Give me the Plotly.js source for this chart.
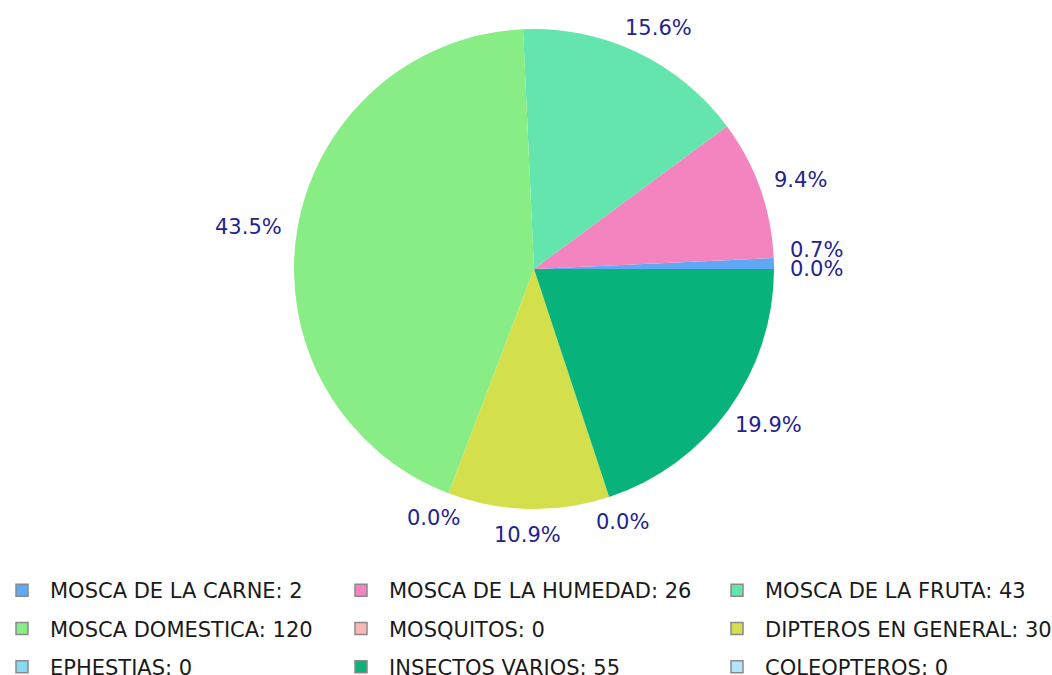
<!DOCTYPE html>
<html>
<head>
<meta charset="utf-8">
<script src="https://cdn.plot.ly/plotly-3.0.1.min.js"></script>
<style>
html,body{margin:0;padding:0;background:#fff;}
#chart{width:1052px;height:675px;}
</style>
</head>
<body>
<div id="chart"></div>
<script>
// ---- data ----
var categories = ["MOSCA DE LA CARNE", "MOSCA DE LA HUMEDAD", "MOSCA DE LA FRUTA",
  "MOSCA DOMESTICA", "MOSQUITOS", "DIPTEROS EN GENERAL",
  "EPHESTIAS", "INSECTOS VARIOS", "COLEOPTEROS"];
var counts = [2, 26, 43, 120, 0, 30, 0, 55, 0];
var colors = ["#5fa8f6", "#f384bf", "#64e5ae", "#88ed84", "#f8b7b3",
  "#d3df4b", "#84d9f3", "#08b27b", "#b5e4f9"];

// ---- layout constants ----
var W = 1052, H = 675;
var cx = 534, cy = 269, R = 240;
var FONT = "DejaVu Sans";
var labelColor = "#23238f";
var labelSize = 21, legendSize = 21;
var labelGap = 16;

var total = counts.reduce(function (a, b) { return a + b; }, 0);

var ctx = document.createElement("canvas").getContext("2d");
ctx.font = labelSize + 'px "' + FONT + '"';

// percentage labels placed outside the pie (computed from the data)
var labs = [];
var acc = 0;
for (var i = 0; i < counts.length; i++) {
  var frac = counts[i] / total;
  var mid = (acc + frac / 2) * 2 * Math.PI; // counterclockwise from 3 o'clock
  acc += frac;
  var c = Math.cos(mid), s = Math.sin(mid);
  var txt = (frac * 100).toFixed(1) + "%";
  var hw = ctx.measureText(txt).width / 2, hh = labelSize / 2;
  var px = cx + c * (R + labelGap) + c * hw;
  var py = cy - s * (R + labelGap) - s * hh;
  labs.push({ text: txt, x: px, y: py, right: c >= 0 });
}
// simple overlap resolution per side (bottom to top)
[true, false].forEach(function (side) {
  var group = labs.filter(function (l) { return l.right === side; })
    .sort(function (a, b) { return b.y - a.y; });
  for (var k = 1; k < group.length; k++) {
    var minSep = 19;
    if (group[k - 1].y - group[k].y < minSep && Math.abs(group[k - 1].x - group[k].x) < 80) {
      group[k].y = group[k - 1].y - minSep;
    }
  }
});

var annotations = labs.map(function (l) {
  return {
    xref: "paper", yref: "paper",
    x: l.x / W, y: 1 - l.y / H,
    xanchor: "center", yanchor: "middle",
    text: l.text, showarrow: false,
    font: { family: FONT, size: labelSize, color: labelColor }
  };
});

var traces = [{
  type: "pie",
  values: counts,
  labels: categories,
  sort: false,
  direction: "counterclockwise",
  // plotly ends the first slice at `rotation` when counterclockwise;
  // shift so that the first slice starts at 3 o'clock
  rotation: 90 - 360 * counts[0] / total,
  textinfo: "none",
  hoverinfo: "label+value+percent",
  showlegend: false,
  marker: { colors: colors, line: { width: 0 } },
  domain: { x: [(cx - R) / W, (cx + R) / W], y: [1 - (cy + R) / H, 1 - (cy - R) / H] }
}];

// legend entries (3 columns, row-major order)
var legendIds = ["legend", "legend2", "legend3"];
for (var j = 0; j < categories.length; j++) {
  traces.push({
    type: "scatter", mode: "markers",
    x: [null], y: [null],
    name: categories[j] + ": " + counts[j],
    legend: legendIds[j % 3],
    legendgroup: "g" + j,
    marker: { symbol: "square", size: 12, color: colors[j], line: { color: "#8a8a8a", width: 1.5 } },
    hoverinfo: "skip"
  });
}

function legendDef(xpx) {
  return {
    x: xpx / W, xanchor: "left",
    y: 1 - 570 / H, yanchor: "top",
    orientation: "v",
    traceorder: "grouped",
    tracegroupgap: 8,
    itemwidth: 46,
    bgcolor: "rgba(0,0,0,0)",
    borderwidth: 0,
    font: { family: FONT, size: legendSize, color: "#1a1a1a" }
  };
}

var layout = {
  width: W, height: H,
  margin: { l: 0, r: 0, t: 0, b: 0, autoexpand: false },
  paper_bgcolor: "#ffffff",
  plot_bgcolor: "#ffffff",
  showlegend: true,
  xaxis: { visible: false, fixedrange: true },
  yaxis: { visible: false, fixedrange: true },
  legend: legendDef(-6),
  legend2: legendDef(333),
  legend3: legendDef(709),
  annotations: annotations
};

Plotly.newPlot("chart", traces, layout, { displayModeBar: false, staticPlot: true });
</script>
</body>
</html>
